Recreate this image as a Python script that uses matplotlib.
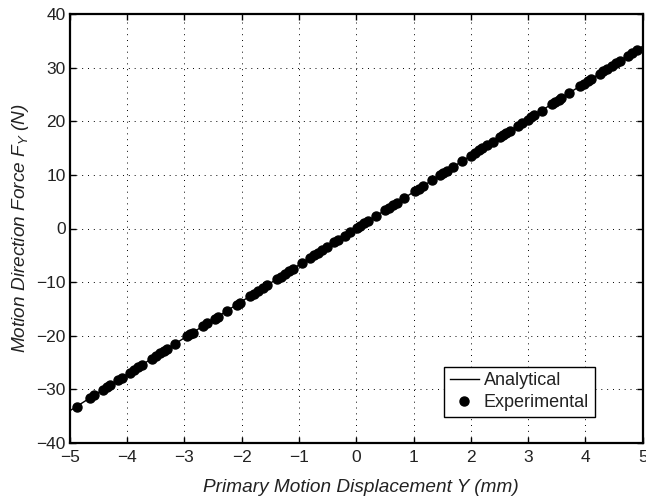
import matplotlib
matplotlib.use("Agg")
import matplotlib.pyplot as plt

plt.rcParams['font.family'] = ['Liberation Sans', 'DejaVu Sans']
plt.rcParams['mathtext.fontset'] = 'custom'
plt.rcParams['mathtext.it'] = 'Liberation Sans:italic'
plt.rcParams['mathtext.rm'] = 'Liberation Sans'

# Analytical model (straight line through the origin)
analytical_x = [-5.0, 5.0]
analytical_y = [-34.0, 34.0]

# Measured points
experimental_x = [
    -4.88, -4.65, -4.58, -4.42, -4.35, -4.30, -4.16, -4.09,
    -3.95, -3.88, -3.81, -3.74, -3.57, -3.50, -3.43, -3.36, -3.30,
    -3.17, -2.96, -2.90, -2.85, -2.68, -2.60, -2.47, -2.42, -2.26,
    -2.09, -2.03, -1.86, -1.79, -1.71, -1.63, -1.56,
    -1.39, -1.32, -1.25, -1.17, -1.10, -0.95,
    -0.81, -0.74, -0.67, -0.60, -0.51, -0.38, -0.32, -0.20, -0.11,
    0.01, 0.07, 0.14, 0.20, 0.34, 0.50, 0.57, 0.64, 0.71, 0.83,
    1.02, 1.09, 1.16, 1.32, 1.46, 1.52, 1.58, 1.68, 1.84,
    2.00, 2.07, 2.14, 2.20, 2.29, 2.38, 2.50, 2.56, 2.62, 2.68,
    2.82, 2.89, 2.99, 3.05, 3.11, 3.24, 3.41, 3.47, 3.53, 3.58,
    3.72, 3.90, 3.97, 4.04, 4.10, 4.25, 4.31, 4.37,
    4.46, 4.53, 4.60, 4.74, 4.82, 4.90,
]
experimental_y = [
    -33.2, -31.6, -31.1, -30.1, -29.6, -29.2, -28.3, -27.8,
    -26.9, -26.4, -25.9, -25.4, -24.3, -23.8, -23.3, -22.8, -22.4,
    -21.6, -20.1, -19.7, -19.4, -18.2, -17.7, -16.8, -16.5, -15.4,
    -14.2, -13.8, -12.6, -12.2, -11.6, -11.1, -10.6,
    -9.5, -9.0, -8.5, -8.0, -7.5, -6.5,
    -5.5, -5.0, -4.6, -4.1, -3.5, -2.6, -2.2, -1.4, -0.7,
    0.1, 0.5, 1.0, 1.4, 2.3, 3.4, 3.9, 4.4, 4.8, 5.6,
    6.9, 7.4, 7.9, 9.0, 9.9, 10.3, 10.7, 11.4, 12.5,
    13.6, 14.1, 14.6, 15.0, 15.6, 16.2, 17.0, 17.4, 17.8, 18.2,
    19.2, 19.7, 20.3, 20.7, 21.1, 22.0, 23.2, 23.6, 24.0, 24.3,
    25.3, 26.5, 27.0, 27.5, 27.9, 28.9, 29.3, 29.7,
    30.3, 30.8, 31.3, 32.2, 32.8, 33.3,
]

x_ticks = [-5, -4, -3, -2, -1, 0, 1, 2, 3, 4, 5]
y_ticks = [-40, -30, -20, -10, 0, 10, 20, 30, 40]

text_color = '#222222'

fig = plt.figure(figsize=(6.46, 5.0), dpi=100)
ax = fig.add_axes([0.108, 0.114, 0.887, 0.858])

ax.plot(analytical_x, analytical_y, color='black', linewidth=1.0, label='Analytical')
ax.plot(experimental_x, experimental_y, linestyle='none', marker='o',
        markersize=6.5, color='black', label='Experimental')

ax.set_xlim(-5, 5)
ax.set_ylim(-40, 40)
ax.set_xticks(x_ticks)
ax.set_yticks(y_ticks)
ax.set_xticklabels([str(t).replace('-', '\u2212') for t in x_ticks])
ax.set_yticklabels([str(t).replace('-', '\u2212') for t in y_ticks])

ax.grid(True, color='black', linestyle=(0, (1, 5)), linewidth=0.7)
ax.tick_params(direction='in', length=4, width=1, labelsize=12.5,
               labelcolor=text_color, top=True, right=True)
ax.tick_params(axis='x', pad=5)
ax.tick_params(axis='y', pad=3)
for s in ax.spines.values():
    s.set_linewidth(1.6)

ax.set_xlabel('Primary Motion Displacement Y (mm)', fontsize=13.7,
              fontstyle='italic', labelpad=11, color=text_color)
ax.xaxis.set_label_coords(0.508, -0.085)
ax.set_ylabel(r'Motion Direction Force $F_Y$ (N)', fontsize=13.7,
              fontstyle='italic', labelpad=4, color=text_color)

leg = ax.legend(loc='lower right', bbox_to_anchor=(0.916, 0.061),
                fontsize=13, frameon=True, fancybox=False,
                borderpad=0.3, handlelength=1.6, handletextpad=0.3,
                labelspacing=0.3, borderaxespad=0)
leg.get_frame().set_edgecolor('black')
leg.get_frame().set_linewidth(1.0)
leg.get_frame().set_alpha(1)
for t in leg.get_texts():
    t.set_color(text_color)

fig.savefig('out.png', dpi=100)
